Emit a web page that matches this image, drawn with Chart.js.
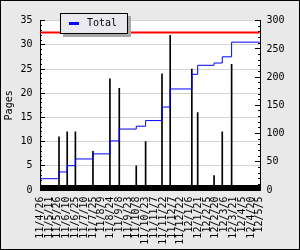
<!DOCTYPE html>
<html>
<head>
<meta charset="utf-8">
<script src="https://cdn.jsdelivr.net/npm/chart.js@4.4.1/dist/chart.umd.min.js"></script>
<style>
    html, body { margin: 0; padding: 0; background: #fff; }
    #frame {
        position: relative; width: 300px; height: 250px; box-sizing: border-box;
        border: 1px solid #000; background: #e9e9e9;
    }
    #pagesChart { position: absolute; left: 0; top: 0; }
    #legend {
        position: absolute; left: 59px; top: 12px; width: 66px; height: 19px;
        border: 1px solid #000; background: #ebe9f0; box-shadow: 3px 3px 0 #a9a9a9;
        font: 10px 'DejaVu Sans Mono', monospace; color: #000;
    }
    #legend .swatch { position: absolute; left: 8px; top: 8px; width: 10px; height: 3px; background: #0000ff; }
    #legend .label { position: absolute; left: 26px; top: 4px; line-height: 10px; }
</style>
</head>
<body>
<div id="frame">
    <canvas id="pagesChart" width="298" height="248"></canvas>
    <div id="legend"><span class="swatch"></span><span class="label">Total</span></div>
</div>
<script>
// ── Dati ─────────────────────────────────────────────────────
const tickLabels = ['11/4/26', '11/5/11', '11/5/26', '11/6/10', '11/6/25', '11/7/10', '11/7/25',
    '11/8/9', '11/8/24', '11/9/8', '11/9/23', '11/10/8', '11/10/23', '11/11/7', '11/11/22',
    '11/12/7', '11/12/22', '12/1/6', '12/1/21', '12/2/5', '12/2/20', '12/3/6', '12/3/21',
    '12/4/5', '12/4/20', '12/5/5'];
const readDates = ['11/4/26', '11/5/28', '11/6/11', '11/6/25', '11/7/25', '11/8/23', '11/9/8',
    '11/10/7', '11/10/23', '11/11/20', '11/12/4', '12/1/10', '12/1/20', '12/2/17', '12/3/2', '12/3/18'];
const pagesRead = [20, 11, 12, 12, 8, 23, 21, 5, 10, 24, 32, 25, 16, 3, 12, 26];
const totalPages = [20, 32, 43, 55, 64, 87, 108, 113, 123, 147, 179, 205, 221, 225, 236, 262];
const targetPages = 279;

function giorno(s) {
    const [a, m, g] = s.split('/').map(Number);
    const [a0, m0, g0] = tickLabels[0].split('/').map(Number);
    return Math.round((Date.UTC(2000 + a, m - 1, g) - Date.UTC(2000 + a0, m0 - 1, g0)) / 86400000);
}

const ultimoGiorno = giorno(tickLabels[tickLabels.length - 1]);
const etichette = {};
tickLabels.forEach(t => { etichette[giorno(t)] = t; });
const tuttiGiorni = [];
for (let g = 0; g <= ultimoGiorno; g++) tuttiGiorni.push({ value: g });

const puntiTotale = readDates.map((d, i) => ({ x: giorno(d), y: totalPages[i] }));
puntiTotale.push({ x: ultimoGiorno, y: totalPages[totalPages.length - 1] });

Chart.defaults.font.family = "'DejaVu Sans Mono', monospace";
Chart.defaults.font.size = 10;
Chart.defaults.color = '#000';

const ctx = document.getElementById('pagesChart').getContext('2d');
const pagesChart = new Chart(ctx, {
    data: {
        datasets: [
            {
                type: 'line',
                label: 'Target',
                data: [{ x: 0, y: targetPages }, { x: ultimoGiorno, y: targetPages }],
                borderColor: '#ff0000',
                borderWidth: 2,
                pointRadius: 0,
                yAxisID: 'yR',
                order: 0
            },
            {
                type: 'line',
                label: 'Total',
                data: puntiTotale,
                borderColor: '#0000ff',
                borderWidth: 1,
                pointRadius: 0,
                stepped: 'before',
                yAxisID: 'yR',
                order: 1
            },
            {
                type: 'bar',
                label: 'Pages',
                data: readDates.map((d, i) => ({ x: giorno(d), y: pagesRead[i] })),
                backgroundColor: '#000',
                borderWidth: 0,
                barThickness: 1,
                yAxisID: 'yL',
                order: 2
            }
        ]
    },
    options: {
        responsive: false,
        animation: false,
        layout: { padding: { top: 19.7, left: 0, right: 0, bottom: 0 } },
        plugins: { legend: { display: false }, tooltip: { enabled: false } },
        scales: {
            x: {
                type: 'linear',
                position: 'bottom',
                min: 0,
                max: ultimoGiorno,
                afterBuildTicks: a => { a.ticks = tuttiGiorni.slice(); },
                afterFit: a => { a.height = 59; },
                ticks: {
                    autoSkip: false, minRotation: 90, maxRotation: 90, padding: 11.5,
                    callback: v => etichette[v] || ''
                },
                grid: { drawOnChartArea: false, tickLength: -5, color: '#000' },
                border: { color: '#000' }
            },
            yL: {
                type: 'linear',
                position: 'left',
                weight: 1,
                min: 0,
                max: 35,
                afterFit: a => { a.width = 39; },
                ticks: { stepSize: 5, padding: 12.5 },
                grid: {
                    color: c => (c.tick && c.tick.value === 0) ? 'rgba(0,0,0,0)' : '#d4d4d4',
                    tickColor: '#000',
                    tickLength: -5
                },
                border: { color: '#000' },
                title: { display: true, text: 'Pages', padding: { top: 2, bottom: 0 } }
            },
            yLMinor: {
                type: 'linear',
                position: 'left',
                weight: 0,
                min: 0,
                max: 35,
                afterFit: a => { a.width = 0; },
                ticks: { stepSize: 1, display: false },
                grid: { drawOnChartArea: false, tickLength: -2, color: '#000' },
                border: { display: false }
            },
            yR: {
                type: 'linear',
                position: 'right',
                weight: 1,
                min: 0,
                max: 300,
                afterFit: a => { a.width = 39; },
                ticks: { stepSize: 50, padding: 11.5 },
                grid: { drawOnChartArea: false, tickLength: -5, color: '#000' },
                border: { color: '#000' }
            },
            yRMinor: {
                type: 'linear',
                position: 'right',
                weight: 0,
                min: 0,
                max: 300,
                afterFit: a => { a.width = 0; },
                ticks: { stepSize: 10, display: false },
                grid: { drawOnChartArea: false, tickLength: -2, color: '#000' },
                border: { display: false }
            }
        }
    },
    plugins: [{
        id: 'sfondoBianco',
        beforeDraw: (chart) => {
            const a = chart.chartArea;
            chart.ctx.save();
            chart.ctx.fillStyle = '#fff';
            chart.ctx.fillRect(a.left, a.top, a.right - a.left, a.bottom - a.top);
            chart.ctx.restore();
        }
    }]
});
</script>
</body>
</html>
